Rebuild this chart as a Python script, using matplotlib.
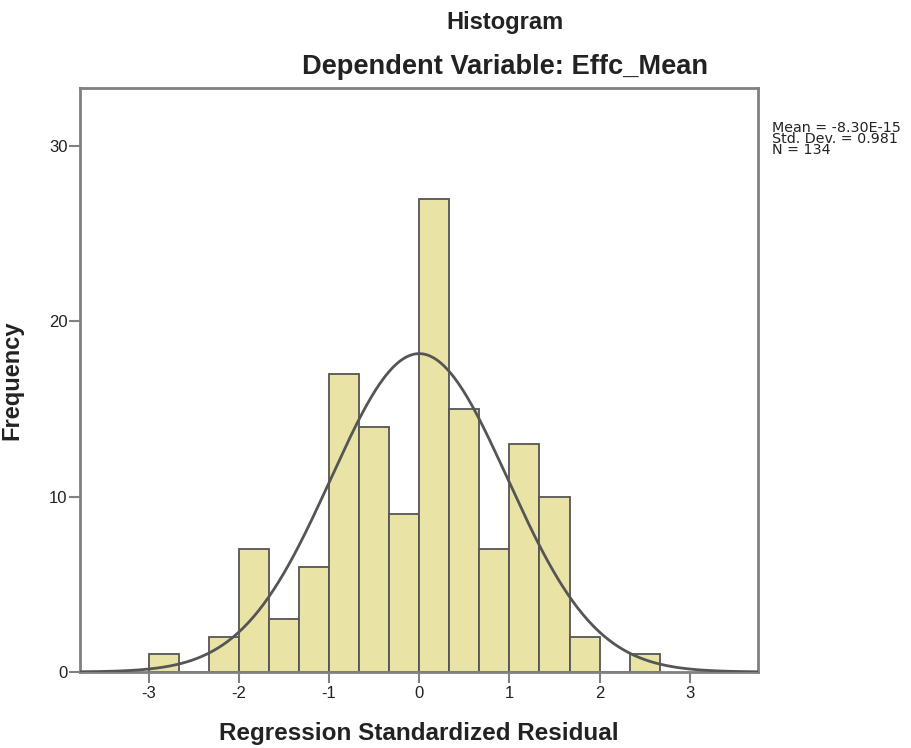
import numpy as np
import matplotlib
matplotlib.use("Agg")
import matplotlib.pyplot as plt

# ---- data ----
bin_left_edges = [-3.0, -2.6667, -2.3333, -2.0, -1.6667, -1.3333, -1.0, -0.6667,
                  -0.3333, 0.0, 0.3333, 0.6667, 1.0, 1.3333, 1.6667, 2.0, 2.3333]
counts = [1, 0, 2, 7, 3, 6, 17, 14, 9, 27, 15, 7, 13, 10, 2, 0, 1]
bin_width = 1.0 / 3.0
mean_val = -8.30e-15
std_val = 0.981
n_val = 134
x_ticks = [-3, -2, -1, 0, 1, 2, 3]
y_ticks = [0, 10, 20, 30]
stat_lines = ['Mean = -8.30E-15', 'Std. Dev. = 0.981', 'N = 134']

plt.rcParams['font.family'] = ['Liberation Sans', 'DejaVu Sans']

fig = plt.figure(figsize=(9.12, 7.48), dpi=100)
ax = fig.add_axes([80/912, 1-672/748, (757.5-80)/912, (672-87.5)/748])

bar_face = '#E9E4A6'
edge = '#555555'
ax.bar(bin_left_edges, counts, width=bin_width, align='edge',
       color=bar_face, edgecolor=edge, linewidth=1.3, zorder=2)

xs = np.linspace(-3.76, 3.76, 400)
ys = n_val * bin_width * np.exp(-0.5 * ((xs - mean_val) / std_val) ** 2) / (std_val * np.sqrt(2 * np.pi))
ax.plot(xs, ys, color='#555555', linewidth=2.0, zorder=3)

ax.set_xlim(-3.76, 3.75)
ax.set_ylim(0, 33.35)
ax.set_xticks(x_ticks)
ax.set_xticklabels([str(t) for t in x_ticks])
ax.set_yticks(y_ticks)
ax.set_yticklabels([str(t) for t in y_ticks])

for s in ax.spines.values():
    s.set_color('#808080')
    s.set_linewidth(2.0)
ax.tick_params(axis='both', direction='out', length=8, width=1.5, color='#808080',
               labelsize=12, labelcolor='#222222', pad=1)
ax.tick_params(axis='x', pad=2)

ax.set_xlabel('Regression Standardized Residual', fontsize=17.5, fontweight='bold',
              color='#222222', labelpad=15)
ax.set_ylabel('Frequency', fontsize=17, fontweight='bold', color='#222222', labelpad=18)

fig.text(505/912, 1-23/748, 'Histogram', ha='center', va='center',
         fontsize=17, fontweight='bold', color='#222222')
fig.text(505/912, 1-67/748, 'Dependent Variable: Effc_Mean', ha='center', va='center',
         fontsize=19.6, fontweight='bold', color='#222222')

fig.text(772/912, 1-121/748, '\n'.join(stat_lines), ha='left', va='top',
         fontsize=10.3, color='#222222', family=['DejaVu Sans'], linespacing=0.72)

fig.savefig('out.png', dpi=100, facecolor='white')
